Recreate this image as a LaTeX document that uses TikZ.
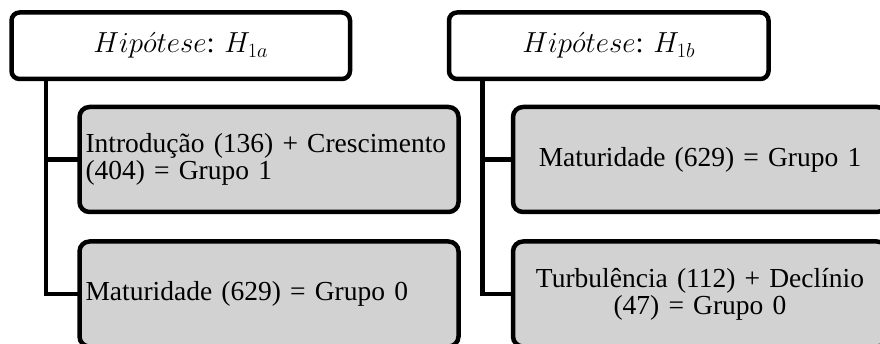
\RequirePackage{fix-cm}
\documentclass[tikz,border=0pt]{standalone}
\usepackage{fontspec}
\setmainfont{Liberation Serif}
\usetikzlibrary{positioning}
\definecolor{boxgray}{HTML}{D2D2D2}
\tikzset{
    hyp/.style ={
        shape=rectangle,
        rounded corners=8pt,
        draw=black,
        fill=white,
        line width=4.5pt,
        outer sep=0pt,
        minimum height=66.5pt,
        font=\fontsize{29}{27}\selectfont
    },
    group/.style ={
        shape=rectangle,
        rounded corners=10pt,
        draw=black,
        fill=boxgray,
        line width=4.5pt,
        outer sep=0pt,
        inner xsep=6pt,
        minimum height=105pt,
        font=\fontsize{27.5}{27}\selectfont
    },
    stem/.style ={
        draw=black,
        line width=4.5pt
    }
}

\begin{document}
\begin{tikzpicture}[x=1pt,y=1pt]
    \useasboundingbox (0,0) rectangle (880,-344);
    \clip (0,0) rectangle (880,-344);
    \node[hyp,minimum width=338.5pt,anchor=north west] (h1a) at (11.5,-12.5) {$Hip\acute{o}tese$: $H_{1a}$};
    \node[hyp,minimum width=319.5pt,right=99pt of h1a] (h1b) {$Hip\acute{o}tese$: $H_{1b}$};
    \node[group,minimum width=379pt,text width=367pt,align=left,below right=28pt and 68pt of h1a.south west] (a1) {Introdução (136) + Crescimento\\(404) = Grupo 1};
    \node[group,minimum width=379pt,text width=367pt,align=left,below=29.5pt of a1] (a0) {Maturidade (629) = Grupo 0};
    \node[group,minimum width=374pt,text width=362pt,align=center,below right=28pt and 64pt of h1b.south west] (b1) {Maturidade (629) = Grupo 1};
    \node[group,minimum width=374pt,text width=362pt,align=center,below=29.5pt of b1] (b0) {Turbulência (112) + Declínio\\(47) = Grupo 0};
    \coordinate[right=34.5pt of h1a.south west] (ta);
    \coordinate[right=33.5pt of h1b.south west] (tb);
    \draw[stem] (ta) |- (a1.west);
    \draw[stem] (ta) |- (a0.west);
    \draw[stem] (tb) |- (b1.west);
    \draw[stem] (tb) |- (b0.west);
\end{tikzpicture}
\end{document}
